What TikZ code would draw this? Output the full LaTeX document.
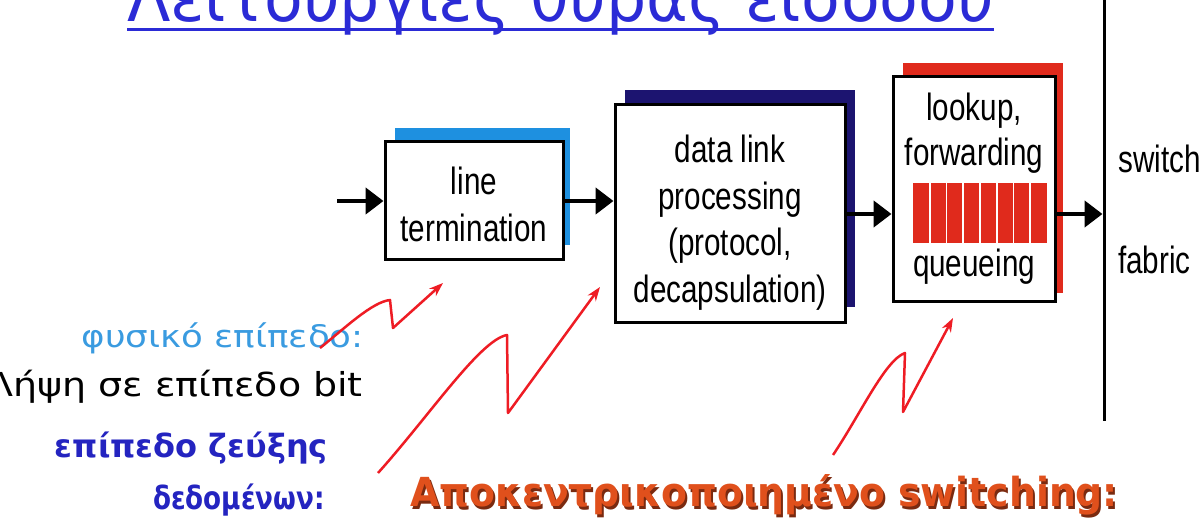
\documentclass[tikz,border=0pt]{standalone}
\usepackage{fontspec}
\setmainfont{Liberation Sans}
\newfontfamily\boxfont[FakeStretch=0.78]{Liberation Sans}
\newfontfamily\greekfont[FakeStretch=1.15]{DejaVu Sans}
\newfontfamily\greekboldfont{DejaVu Sans Bold}
\newfontfamily\greekboldnarrow[FakeStretch=0.82]{DejaVu Sans Bold}
\newfontfamily\sloganfont[FakeStretch=0.944]{DejaVu Sans Bold}
\newfontfamily\bannerfont[FakeStretch=0.96]{DejaVu Sans}
\usetikzlibrary{arrows.meta}

\definecolor{ltblue}{HTML}{1E90E0}
\definecolor{navyshade}{HTML}{1C1470}
\definecolor{qred}{HTML}{E02A1C}
\definecolor{physblue}{HTML}{3A9BE0}
\definecolor{linkblue}{HTML}{2424C0}
\definecolor{titleblue}{HTML}{2B2BD6}
\definecolor{boltred}{HTML}{EE1C24}
\definecolor{switchorange}{HTML}{E0501C}
\definecolor{switchshadow}{HTML}{7A2A10}

\tikzset{
  stage/.style={draw=black, line width=3pt, fill=white, inner sep=0pt},
  stagetext/.style={anchor=base, inner sep=0pt, font=\boxfont\fontsize{38}{46}\selectfont},
  shadebar/.style={fill=#1, draw=none},
  flow/.style={line width=4.5pt, -{Triangle[length=18pt,width=26pt]}},
  bolt/.style={draw=boltred, line width=2.5pt, line join=round, -{Stealth[length=14pt,width=10pt]}},
  greektext/.style={inner sep=0pt, font=\greekfont\fontsize{#1}{#1}\selectfont},
  linkcaption/.style={inner sep=0pt, anchor=base east, text=linkblue},
  slogan/.style={inner sep=0pt, anchor=base west, font=\sloganfont\fontsize{40}{40}\selectfont},
}

\begin{document}
\begin{tikzpicture}[x=1pt, y=-1pt]
\useasboundingbox (0,0) rectangle (1200,518);
\clip (0,0) rectangle (1200,518);

% title, only its lower part lies inside the page
\node[anchor=base west, inner sep=0pt, text=titleblue,
      font=\bannerfont\fontsize{66}{66}\selectfont] (title) at (127,22)
      {Λειτουργίες θύρας εισόδου};
\draw[titleblue, line width=3.5pt] ([yshift=-7.5pt]title.base west) -- ([yshift=-7.5pt]title.base east);

% coloured bars behind the three stages
\fill[shadebar=ltblue]    (395,128) rectangle (570,245);
\fill[shadebar=navyshade] (625,90)  rectangle (855,307);
\fill[shadebar=qred]      (903,63)  rectangle (1063,293);

% stages
\node[stage, minimum width=178pt, minimum height=118pt] (lt) at (474,201) {};
\node[stage, minimum width=230pt, minimum height=218pt] (dl) at (730,214) {};
\node[stage, minimum width=162pt, minimum height=225pt] (lk) at (974,189.5) {};

\node[stagetext] (lt1) at (474,195) {line};
\node[stagetext] (lt2) at (474,242) {termination};
\node[stagetext] (dl1) at (730,163) {data link};
\node[stagetext] (dl2) at (730,209.5) {processing};
\node[stagetext] (dl3) at (730,256) {(protocol,};
\node[stagetext] (dl4) at (730,302.5) {decapsulation)};
\node[stagetext] (lk1) at (974,121) {lookup,};
\node[stagetext] (lk2) at (974,166) {forwarding};
\node[stagetext] (lk3) at (974,277) {queueing};

% input queue
\fill[qred] (913,183) rectangle (1047,243);
\foreach \i in {1,...,7}
  \draw[white, line width=1.8pt] (913+\i*16.75,183) -- (913+\i*16.75,243);

% switch fabric
\draw[line width=3pt] (1104,0) -- (1104,421);
\coordinate (fab) at (1102.5,214);
\node[stagetext, anchor=base west] (sw1) at (1118,173) {switch};
\node[stagetext, anchor=base west] (sw2) at (1118,274) {fabric};

% data path
\coordinate (src) at (337,201);
\draw[flow] (src) -- (lt.west);
\draw[flow] (lt.east) -- (lt.east -| dl.west);
\draw[flow] (dl.east) -- (dl.east -| lk.west);
\draw[flow] (dl.east -| lk.east) -- (fab);

% layer captions
\node[greektext=31, anchor=base east, text=physblue] (phys) at (364,348) {φυσικό επίπεδο:};
\node[greektext=33, anchor=base east] (bits) at (363,397) {Λήψη σε επίπεδο bit};
\node[linkcaption, font=\greekboldfont\fontsize{32}{32}\selectfont] (link1) at (328,458) {επίπεδο ζεύξης};
\node[linkcaption, font=\greekboldnarrow\fontsize{32}{32}\selectfont] (link2) at (325,510) {δεδομένων:};
\node[slogan, text=switchshadow] (decshadow) at (412,509) {Αποκεντρικοποιημένο switching:};
\node[slogan, text=switchorange] (dec) at (410,507) {Αποκεντρικοποιημένο switching:};

% lightning arrows towards the stages
\coordinate (b1a) at (320,348); \coordinate (b1b) at (390,300);
\coordinate (b1c) at (393,328); \coordinate (b1d) at (443,283);
\draw[bolt] (b1a) .. controls (345,328) and (372,302) .. (b1b) -- (b1c) -- (b1d);
\coordinate (b2a) at (378,473); \coordinate (b2b) at (507,335);
\coordinate (b2c) at (508,413); \coordinate (b2d) at (600,287);
\draw[bolt] (b2a) .. controls (430,415) and (480,340) .. (b2b) -- (b2c) -- (b2d);
\coordinate (b3a) at (833,455); \coordinate (b3b) at (905,353);
\coordinate (b3c) at (903,412); \coordinate (b3d) at (953,318);
\draw[bolt] (b3a) .. controls (860,415) and (885,360) .. (b3b) -- (b3c) -- (b3d);
\end{tikzpicture}
\end{document}
